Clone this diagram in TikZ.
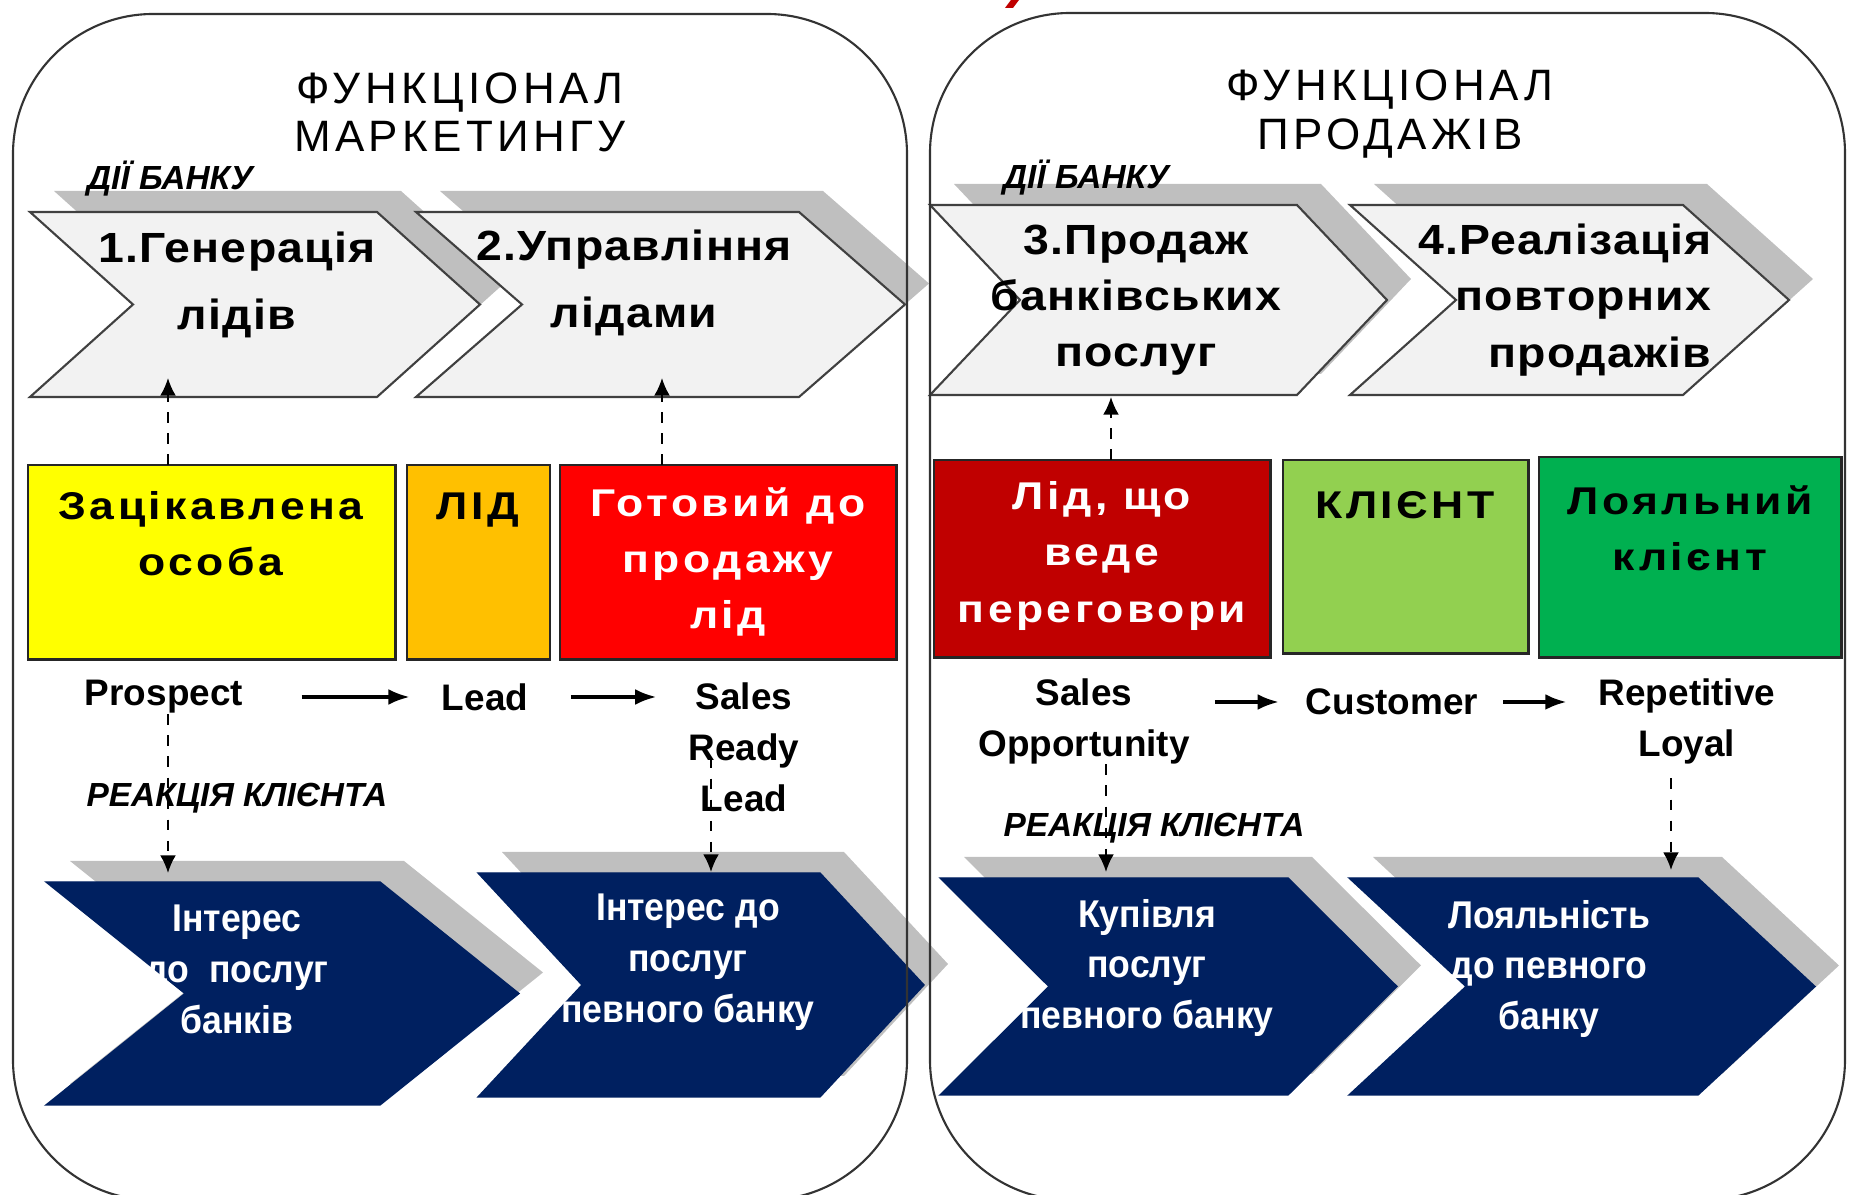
\documentclass[tikz,border=0pt]{standalone}
\usepackage{fontspec}
\setmainfont{Liberation Sans}
\newfontfamily\titlefont[LetterSpace=10]{Liberation Sans}
\newfontfamily\stepfont[FakeStretch=1.1, LetterSpace=3]{Liberation Sans}
\newfontfamily\stagefont[FakeStretch=1.15, LetterSpace=9]{Liberation Sans}
\newfontfamily\narrowfont[FakeStretch=0.92]{Liberation Sans}
\usetikzlibrary{arrows.meta}

\definecolor{chevgray}{HTML}{F2F2F2}
\definecolor{shadowgray}{HTML}{BFBFBF}
\definecolor{edgegray}{HTML}{404040}
\definecolor{navy}{HTML}{002060}
\definecolor{stageyellow}{HTML}{FFFF00}
\definecolor{stageorange}{HTML}{FFC000}
\definecolor{stagered}{HTML}{FF0000}
\definecolor{stagedarkred}{HTML}{C00000}
\definecolor{stagelime}{HTML}{92D050}
\definecolor{stagegreen}{HTML}{00B050}

% chevron: style, left x, top y, top width, height, point depth
\newcommand{\chevron}[6]{%
    \fill[shadowgray] (#2+24,#3-21) -- ++(#4,0) -- ++(#6,#5/2) -- ++(-#6,#5/2) -- ++(-#4,0) -- ++(#6,-#5/2) -- cycle;
    \filldraw[#1] (#2,#3) -- ++(#4,0) -- ++(#6,#5/2) -- ++(-#6,#5/2) -- ++(-#4,0) -- ++(#6,-#5/2) -- cycle;
}

\begin{document}
\begin{tikzpicture}[x=0.01cm, y=-0.01cm,
    panel/.style={draw=black!80, line width=0.6pt, rounded corners=1.4cm},
    upchev/.style={fill=chevgray, draw=edgegray, line width=0.6pt},
    lowchev/.style={fill=navy, draw=navy, line width=0.4pt},
    stage/.style={draw=black!85, line width=0.8pt, anchor=north west, inner sep=0pt, outer sep=0pt},
    heading/.style={font=\titlefont\fontsize{12.5}{13.7}\selectfont, align=center, inner sep=0pt},
    note/.style={font=\bfseries\itshape\fontsize{9.5}{11}\selectfont, inner sep=0pt},
    steptext/.style={font=\stepfont\bfseries\fontsize{12}{19}\selectfont, align=center, inner sep=0pt},
    stagetext/.style={font=\stagefont\bfseries\fontsize{11}{16}\selectfont, align=center, inner sep=0pt},
    navytext/.style={font=\narrowfont\bfseries\fontsize{11}{14.5}\selectfont, text=white, align=center, inner sep=0pt},
    term/.style={font=\bfseries\fontsize{10.5}{14.5}\selectfont, align=center, inner sep=0pt},
    flow/.style={-{Latex[length=6pt,width=4.5pt]}, line width=0.9pt},
    hint/.style={dashed, -{Latex[length=5pt,width=4.5pt]}, line width=0.6pt}]
    \useasboundingbox (0,0) rectangle (1850,1195);

    \fill[stagedarkred] (1005,8) -- (1013,8) -- (1019,0) -- (1011,0) -- cycle;

    \node[heading] (tmark) at (460,112) {ФУНКЦІОНАЛ\\МАРКЕТИНГУ};
    \node[heading] (tsales) at (1390,114) {ФУНКЦІОНАЛ\\ПРОДАЖІВ};

    \chevron{upchev}{30}{212}{347}{185}{103}
    \chevron{upchev}{416}{212}{383}{185}{106}
    \chevron{upchev}{930}{205}{367}{190}{90}
    \chevron{upchev}{1350}{205}{333}{190}{106}

    \node[note] (act1) at (170,179) {ДІЇ БАНКУ};
    \node[note] (act2) at (1086,178) {ДІЇ БАНКУ};

    \node[steptext] (step1) at (237,285) {1.Генерація\\лідів};
    \node[steptext] (step2) at (634,283) {2.Управління\\лідами};
    \node[steptext, font=\stepfont\bfseries\fontsize{12}{16}\selectfont] (step3) at (1136,300) {3.Продаж\\банківських\\послуг};
    \node[steptext, font=\stepfont\bfseries\fontsize{12}{16}\selectfont, align=right, anchor=east] (step4) at (1712,300) {4.Реалізація\\повторних\\продажів};

    \node[stage, fill=stageyellow, minimum width=3.67cm, minimum height=1.94cm] (zac) at (28,465) {};
    \node[stage, fill=stageorange, minimum width=1.43cm, minimum height=1.94cm] (lid) at (407,465) {};
    \node[stage, fill=stagered, minimum width=3.36cm, minimum height=1.94cm] (gotov) at (560,465) {};
    \node[stage, fill=stagedarkred, minimum width=3.36cm, minimum height=1.97cm] (nego) at (934,460) {};
    \node[stage, fill=stagelime, minimum width=2.45cm, minimum height=1.93cm] (client) at (1283,460) {};
    \node[stage, fill=stagegreen, minimum width=3.02cm, minimum height=2.00cm] (loyal) at (1539,457) {};

    \node[stagetext] (zactext) at (211,534) {Зацікавлена\\особа};
    \node[stagetext] (lidtext) at (478,510) {ЛІД};
    \node[stagetext, text=white] (gotovtext) at (728,562) {Готовий до\\продажу\\лід};
    \node[stagetext, text=white] (negotext) at (1102,556) {Лід, що\\веде\\переговори};
    \node[stagetext] (clienttext) at (1405,505) {КЛІЄНТ};
    \node[stagetext] (loyaltext) at (1690,528) {Лояльний\\клієнт};

    \node[term] (prospect) at (164,697) {Prospect};
    \node[term] (lead) at (485,697) {Lead};
    \node[term] (sready) at (744,747) {Sales\\Ready\\Lead};
    \node[term] (sopp) at (1084,721) {Sales\\Opportunity};
    \node[term] (customer) at (1392,702) {Customer};
    \node[term] (rloyal) at (1687,721) {Repetitive\\Loyal};

    \draw[flow, shorten <=16.5pt, shorten >=9pt] (prospect.east) -- (lead.west);
    \draw[flow, shorten <=12pt, shorten >=9pt] (lead.east) -- (lead.east -| sready.west);
    \draw[flow, shorten <=7pt, shorten >=7.5pt] (sopp.east |- customer.west) -- (customer.west);
    \draw[flow, shorten <=7pt, shorten >=9pt] (customer.east) -- (customer.east -| rloyal.west);

    \node[note] (react1) at (237,798) {РЕАКЦІЯ КЛІЄНТА};
    \node[note] (react2) at (1154,828) {РЕАКЦІЯ КЛІЄНТА};

    \chevron{lowchev}{46}{882}{334}{223}{139}
    \chevron{lowchev}{478}{873}{342}{224}{104}
    \chevron{lowchev}{940}{878}{348}{217}{109}
    \chevron{lowchev}{1349}{878}{349}{217}{117}

    \node[navytext] (want1) at (237,969) {Інтерес\\до\ \ послуг\\банків};
    \node[navytext] (want2) at (688,962) {Інтерес до\\послуг\\певного банку};
    \node[navytext] (buy) at (1147,968) {Купівля\\послуг\\певного банку};
    \node[navytext] (stay) at (1549,969) {Лояльність\\до певного\\банку};

    \coordinate (up1) at (168,378);
    \coordinate (up2) at (662,378);
    \coordinate (up3) at (1111,397);
    \coordinate (dn1) at (168,873);
    \coordinate (dn2) at (711,872);
    \coordinate (dn3) at (1106,872);
    \coordinate (dn4) at (1671,870);
    \draw[hint] (zac.north -| up1) -- (up1);
    \draw[hint] (gotov.north -| up2) -- (up2);
    \draw[hint] (nego.north -| up3) -- (up3);
    \draw[hint] (prospect.south -| dn1) -- (dn1);
    \draw[hint] ([yshift=-3pt]sready.center -| dn2) -- (dn2);
    \draw[hint] (sopp.south -| dn3) -- (dn3);
    \draw[hint, shorten <=4pt] (rloyal.south -| dn4) -- (dn4);

    \draw[panel] (13,14) rectangle (907,1200);
    \draw[panel] (930,13) rectangle (1845,1200);
\end{tikzpicture}
\end{document}
